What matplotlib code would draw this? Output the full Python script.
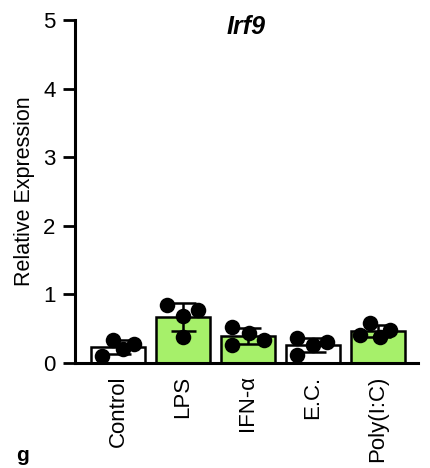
import matplotlib
matplotlib.use("Agg")
import matplotlib.pyplot as plt
import numpy as np

plt.rcParams['font.family'] = ['Liberation Sans', 'DejaVu Sans']

categories = ["Control", "LPS", "IFN-α", "E.C.", "Poly(I:C)"]
points = [
    [0.10, 0.34, 0.21, 0.28],
    [0.85, 0.68, 0.77, 0.38],
    [0.53, 0.26, 0.43, 0.34],
    [0.36, 0.12, 0.26, 0.31],
    [0.41, 0.58, 0.38, 0.48],
]
bar_colors = ["white", "#A6F06A", "#A6F06A", "white", "#A6F06A"]
jitter = [
    [-0.25, -0.07, 0.08, 0.24],
    [-0.24, 0.0, 0.23, 0.0],
    [-0.25, -0.25, 0.01, 0.24],
    [-0.25, -0.25, 0.0, 0.21],
    [-0.28, -0.12, 0.03, 0.18],
]

fig = plt.figure(figsize=(4.31, 4.68), dpi=100)
ax = fig.add_axes([0.174, 0.2244, 0.796, 0.733])

x = np.arange(len(categories))
means = [np.mean(p) for p in points]
sds = [np.std(p, ddof=1) for p in points]

ax.bar(x, means, width=0.83, color=bar_colors, edgecolor='black', linewidth=1.8, zorder=2)
ax.errorbar(x, means, yerr=sds, fmt='none', ecolor='black', elinewidth=1.8,
            capsize=9, capthick=1.8, zorder=3)
for i, p in enumerate(points):
    ax.scatter(x[i] + np.array(jitter[i]), p, s=125, color='black', zorder=4, linewidths=0)

ax.set_xlim(-0.66, 4.615)
ax.set_ylim(0, 5)
ax.set_yticks([0, 1, 2, 3, 4, 5])
ax.set_xticks(x)
ax.set_xticklabels(categories, rotation=90, fontsize=16)
ax.tick_params(axis='x', length=0, pad=9)
ax.tick_params(axis='y', length=9, width=2, labelsize=16, pad=5)
for s in ['top', 'right']:
    ax.spines[s].set_visible(False)
for s in ['left', 'bottom']:
    ax.spines[s].set_linewidth(2.2)
ax.set_ylabel("Relative Expression", fontsize=15.5, labelpad=6)
ax.text(0.5, 0.98, "Irf9", transform=ax.transAxes, ha='center', va='center',
        fontsize=18, fontstyle='italic', fontweight='bold')

fig.text(0.037, 0.015, "g", fontsize=15, fontweight='bold')

fig.savefig("out.png", dpi=100)
